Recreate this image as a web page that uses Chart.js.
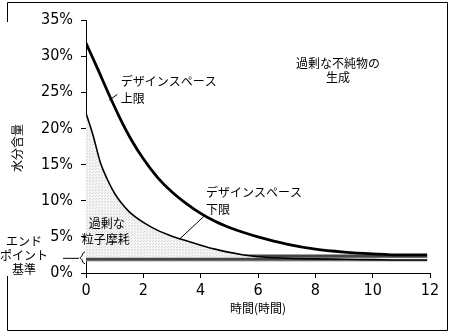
<!DOCTYPE html>
<html><head><meta charset="utf-8">
<script src="https://cdn.jsdelivr.net/npm/chart.js@4.4.1/dist/chart.umd.min.js"></script>
<style>html,body{margin:0;padding:0;background:#fff;overflow:hidden}#wrap{width:452px;height:333px;position:relative}</style>
</head><body><div id="wrap"><canvas id="c" width="452" height="333"></canvas></div>
<script>
// ---- data ----
const xTickValues = [0, 2, 4, 6, 8, 10, 12];
const yTickValues = [0, 5, 10, 15, 20, 25, 30, 35];
const upperX = [0, 0.4, 0.8, 1.2, 1.6, 2.0, 2.5, 3.0, 3.5, 4.0, 4.5, 5.0, 5.5, 6.0, 7.0, 8.0, 9.0, 10.0, 11.0, 11.9];
const upperY = [31.8, 28.3, 24.7, 21.3, 18.3, 15.8, 13.2, 11.2, 9.6, 8.25, 7.15, 6.3, 5.6, 5.0, 4.0, 3.3, 2.9, 2.65, 2.5, 2.5];
const lowerX = [0, 0.25, 0.5, 0.75, 1.0, 1.25, 1.5, 2.0, 2.5, 3.0, 3.5, 4.0, 4.5, 5.0, 5.5, 6.0, 7.0, 8.0, 9.0, 10.0, 11.0, 11.9];
const lowerY = [22.1, 19.0, 15.3, 12.9, 11.0, 9.6, 8.5, 7.0, 5.9, 5.1, 4.45, 3.85, 3.3, 2.85, 2.5, 2.25, 2.05, 1.95, 1.9, 1.85, 1.8, 1.8];
const endpointX = [0, 11.9];
const endpointY = [2.1, 2.1];
const xTitle = '時間(時間)';
const yTitle = '水分含量';

const toPts = (xs, ys) => xs.map((x, i) => ({x, y: ys[i]}));

// stipple pattern for the attrition area
function makePattern() {
  const p = document.createElement('canvas');
  p.width = 3; p.height = 3;
  const g = p.getContext('2d');
  g.fillStyle = '#f5f5f5'; g.fillRect(0, 0, 3, 3);
  g.fillStyle = '#d6d6d6'; g.fillRect(0, 0, 1, 1); g.fillRect(2, 1, 1, 1);
  return g.createPattern(p, 'repeat');
}

const JP = '"Noto Sans CJK JP", sans-serif';
const NUM = '"Liberation Sans Narrow", "DejaVu Sans Condensed", "Liberation Sans", sans-serif';

const annot = {
  id: 'annot',
  afterDraw(chart) {
    const ctx = chart.ctx, xs = chart.scales.x, ys = chart.scales.y;
    const X = v => xs.getPixelForValue(v), Y = v => ys.getPixelForValue(v);
    ctx.save();
    // frame
    ctx.strokeStyle = '#000'; ctx.lineWidth = 1;
    ctx.beginPath();
    ctx.moveTo(7.5, 22); ctx.lineTo(7.5, 2.5); ctx.lineTo(447.5, 2.5); ctx.lineTo(447.5, 330.5);
    ctx.lineTo(7.5, 330.5); ctx.lineTo(7.5, 276);
    ctx.stroke();
    // leader lines
    ctx.lineWidth = 1;
    ctx.beginPath();
    ctx.moveTo(X(0.81), Y(23.9)); ctx.lineTo(X(1.09), Y(24.7));
    ctx.moveTo(X(4.13), Y(7.9)); ctx.lineTo(X(3.28), Y(4.75));
    ctx.stroke();
    // endpoint leader + brace
    const yb = Y(2.1);
    ctx.beginPath();
    ctx.moveTo(X(0) - 23, yb + 0.5); ctx.lineTo(X(0) - 7, yb + 0.5);
    ctx.moveTo(X(0) - 1, yb - 6); ctx.quadraticCurveTo(X(0) - 4, yb - 5, X(0) - 4, yb - 2);
    ctx.lineTo(X(0) - 6, yb); ctx.lineTo(X(0) - 4, yb + 2);
    ctx.quadraticCurveTo(X(0) - 4, yb + 5, X(0) - 1, yb + 6);
    ctx.stroke();
    // texts
    ctx.fillStyle = '#000';
    ctx.font = '12px ' + JP;
    ctx.textBaseline = 'middle';
    ctx.textAlign = 'left';
    ctx.fillText('デザインスペース', X(1.21), Y(26.5));
    ctx.fillText('上限', X(1.21), Y(24.2));
    ctx.fillText('デザインスペース', X(4.19), Y(11.1));
    ctx.fillText('下限', X(4.19), Y(8.85));
    ctx.fillText('過剰な', X(0.1), Y(6.9));
    ctx.fillText('粒子摩耗', X(-0.15), Y(4.7));
    ctx.textAlign = 'center';
    ctx.fillText('過剰な不純物の', X(8.79), Y(29.0));
    ctx.fillText('生成', X(8.79), Y(27.1));
    ctx.fillText('エンド', 24, yb - 16);
    ctx.fillText('ポイント', 24, yb - 2);
    ctx.fillText('基準', 24, yb + 12);
    // axis titles
    ctx.fillText(xTitle, (xs.left + xs.right) / 2, 308);
    ctx.save();
    ctx.translate(17, 148);
    ctx.rotate(-Math.PI / 2);
    ctx.fillText(yTitle, 0, 0);
    ctx.restore();
    ctx.restore();
  }
};

const chart = new Chart(document.getElementById('c'), {
  type: 'line',
  data: {
    datasets: [
      { label: 'upper', data: toPts(upperX, upperY), borderColor: '#000', borderWidth: 2.8,
        pointRadius: 0, cubicInterpolationMode: 'monotone', fill: false, order: 1 },
      { label: 'lower', data: toPts(lowerX, lowerY), borderColor: '#000', borderWidth: 1.6,
        pointRadius: 0, cubicInterpolationMode: 'monotone', fill: {value: 2.1},
        backgroundColor: makePattern(), order: 2 },
      { label: 'endpointEdge', data: toPts(endpointX, endpointY), borderColor: '#a0a0a0', borderWidth: 7.5,
        pointRadius: 0, fill: false, order: 4, borderCapStyle: 'butt' },
      { label: 'endpoint', data: toPts(endpointX, endpointY), borderColor: '#454545', borderWidth: 5.5,
        pointRadius: 0, fill: false, order: 3, borderCapStyle: 'butt' }
    ]
  },
  options: {
    responsive: false,
    animation: false,
    devicePixelRatio: 1,
    layout: { padding: { left: 0, right: 22, top: 20, bottom: 0 } },
    plugins: { legend: { display: false }, tooltip: { enabled: false } },
    scales: {
      x: {
        type: 'linear', min: 0, max: 12,
        afterBuildTicks: s => { s.ticks = xTickValues.map(v => ({value: v})); },
        afterFit: s => { s.height = 60; },
        grid: { drawOnChartArea: false, drawTicks: true, tickLength: 5, color: '#000' },
        border: { color: '#000', width: 1 },
        ticks: { color: '#000', font: { family: NUM, size: 16 }, padding: 3, maxRotation: 0 }
      },
      y: {
        type: 'linear', min: 0, max: 35,
        afterBuildTicks: s => { s.ticks = yTickValues.map(v => ({value: v})); },
        afterFit: s => { s.width = 86; },
        grid: { drawOnChartArea: false, drawTicks: true, tickLength: 5, color: '#000' },
        border: { color: '#000', width: 1 },
        ticks: { color: '#000', font: { family: NUM, size: 16 }, padding: 8,
                 callback: v => v + '%' }
      }
    }
  },
  plugins: [annot]
});
</script></body></html>
